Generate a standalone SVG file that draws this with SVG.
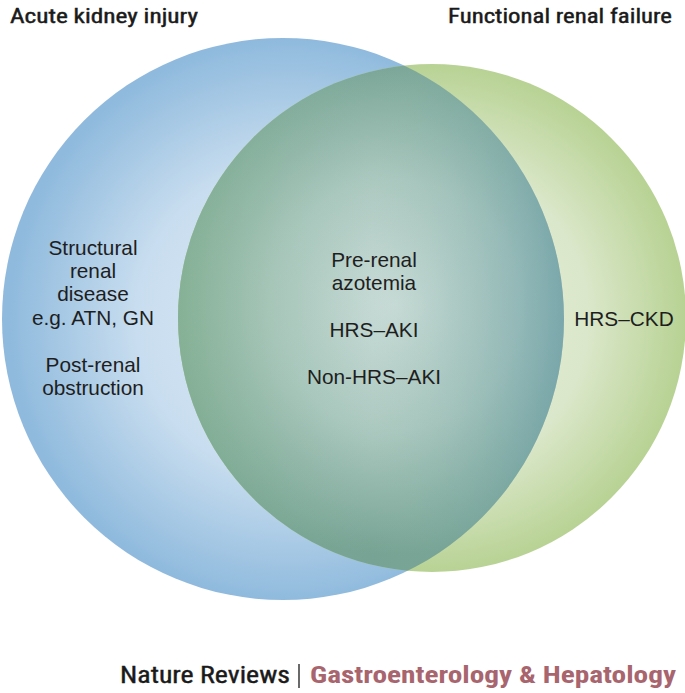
<svg xmlns="http://www.w3.org/2000/svg" width="685" height="693" viewBox="0 0 685 693">
<style>
.hdr{font-family:"Liberation Sans Narrow","Roboto Condensed","Liberation Sans",Arial,sans-serif;font-size:21px;fill:#1a1a1a;stroke:#1a1a1a;stroke-width:0.45px}
.lbl{font-family:"Liberation Sans",Arial,sans-serif;font-size:20.8px;fill:#1e1e1e;text-anchor:middle}
.ftr{font-family:"Liberation Sans Narrow","Roboto Condensed","Liberation Sans",Arial,sans-serif;font-size:23px}
</style>
<defs>
<radialGradient id="gBlue" gradientUnits="userSpaceOnUse" cx="290" cy="320" r="281">
<stop offset="0" stop-color="#dbe9f5"/>
<stop offset="0.55" stop-color="#c8ddef"/>
<stop offset="1" stop-color="#8fbadd"/>
</radialGradient>
<radialGradient id="gGreen" gradientUnits="userSpaceOnUse" cx="430" cy="318" r="256">
<stop offset="0" stop-color="#e6eedb"/>
<stop offset="0.62" stop-color="#dbe7ca"/>
<stop offset="1" stop-color="#b7d293"/>
</radialGradient>
<radialGradient id="gOver" gradientUnits="userSpaceOnUse" cx="395" cy="305" r="250">
<stop offset="0" stop-color="#cadcd8"/>
<stop offset="0.5" stop-color="#acc9c0"/>
<stop offset="1" stop-color="#76a393"/>
</radialGradient>
<linearGradient id="gTint" gradientUnits="userSpaceOnUse" x1="180" y1="0" x2="565" y2="0">
<stop offset="0" stop-color="#8ab886" stop-opacity="0.35"/>
<stop offset="0.5" stop-color="#8fb8a8" stop-opacity="0"/>
<stop offset="1" stop-color="#5c93a8" stop-opacity="0.5"/>
</linearGradient>
<clipPath id="clipBlue"><circle cx="283" cy="319" r="281"/></clipPath>
</defs>
<g id="circle-aki"><circle cx="283" cy="319" r="281" fill="url(#gBlue)"/></g>
<g id="circle-frf"><circle cx="432" cy="318" r="254" fill="url(#gGreen)"/></g>
<g id="overlap" clip-path="url(#clipBlue)">
<circle cx="432" cy="318" r="254" fill="url(#gOver)"/>
<circle cx="432" cy="318" r="254" fill="url(#gTint)"/>
</g>
<g id="connectors"/>
<g id="titles">
<text class="hdr" x="10" y="23" textLength="188" lengthAdjust="spacingAndGlyphs">Acute kidney injury</text>
<text class="hdr" x="448" y="23" textLength="224" lengthAdjust="spacingAndGlyphs">Functional renal failure</text>
</g>
<g id="aki-only">
<text class="lbl" x="93" y="255">Structural</text>
<text class="lbl" x="93" y="278">renal</text>
<text class="lbl" x="93" y="301">disease</text>
<text class="lbl" x="93" y="325">e.g. ATN, GN</text>
<text class="lbl" x="93" y="372">Post-renal</text>
<text class="lbl" x="93" y="395">obstruction</text>
</g>
<g id="both">
<text class="lbl" x="374" y="267">Pre-renal</text>
<text class="lbl" x="374" y="290">azotemia</text>
<text class="lbl" x="374" y="337">HRS–AKI</text>
<text class="lbl" x="374" y="384">Non-HRS–AKI</text>
</g>
<g id="frf-only">
<text class="lbl" x="624" y="326">HRS–CKD</text>
</g>
<g id="footer">
<text class="ftr" x="120" y="683" fill="#1a1a1a" stroke="#1a1a1a" stroke-width="0.4" textLength="170" lengthAdjust="spacingAndGlyphs">Nature Reviews</text>
<line x1="299" y1="664" x2="299" y2="688" stroke="#1a1a1a" stroke-width="1.3"/>
<text class="ftr" x="310" y="683" fill="#a8656e" font-weight="bold" textLength="366" lengthAdjust="spacingAndGlyphs">Gastroenterology &amp; Hepatology</text>
</g>
</svg>
